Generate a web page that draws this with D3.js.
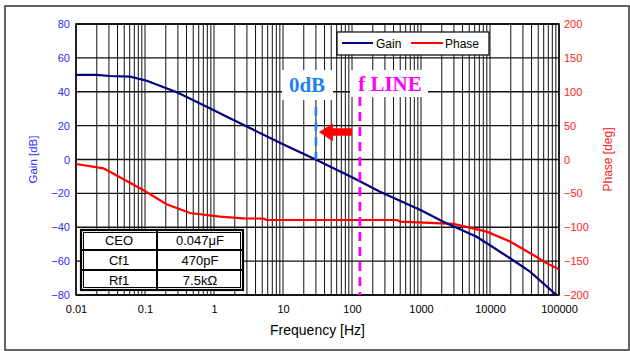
<!DOCTYPE html>
<html>
<head>
<meta charset="utf-8">
<script src="https://cdnjs.cloudflare.com/ajax/libs/d3/7.8.5/d3.min.js"></script>
<style>
  body { margin: 0; background: #fff; }
  svg { display: block; font-family: Arial, "Liberation Sans", sans-serif; }
</style>
</head>
<body>
<div id="chart"></div>
<script>
// gain curve [Hz, dB]
var gainFreq = [0.01, 0.02, 0.031, 0.061, 0.106, 0.29, 0.87, 1.7, 10, 30.7, 100, 255, 1000, 2100, 3000, 6400, 10000, 19500, 38000, 92000];
var gainDb   = [50, 50, 49.3, 48.9, 46.5, 39.7, 30.2, 24.3, 9, -0.3, -10.5, -19, -30, -36.7, -39.6, -45.6, -50.6, -58.3, -66.2, -80];

// phase curve [Hz, deg]
var phaseFreq = [0.01, 0.025, 0.031, 0.094, 0.206, 0.45, 1.22, 2.66, 5.2, 5.8, 450, 497, 2940, 8950, 19500, 42500, 66000, 100000];
var phaseDeg  = [-6.6, -13, -18, -45, -66, -79, -84.4, -86.8, -87.3, -89.3, -89.3, -91.8, -95, -106.5, -121, -141, -153, -162];

var xTicks = [0.01, 0.1, 1, 10, 100, 1000, 10000, 100000];
var xTickLabels = ["0.01", "0.1", "1", "10", "100", "1000", "10000", "100000"];
var gainTicks = [-80, -60, -40, -20, 0, 20, 40, 60, 80];
var phaseTicks = [-200, -150, -100, -50, 0, 50, 100, 150, 200];

var zeroDbFreq = 30;
var fLineFreq = 130;

var tableRows = [["CEO", "0.047\u03bcF"], ["Cf1", "470pF"], ["Rf1", "7.5k\u03a9"]];

var width = 630, height = 351;
var margin = {left: 76, top: 24, right: 71, bottom: 56};
var plotW = width - margin.left - margin.right;
var plotH = height - margin.top - margin.bottom;

var svg = d3.select("#chart").append("svg")
  .attr("width", width)
  .attr("height", height);

// outer frame
svg.append("rect")
  .attr("x", 5).attr("y", 6)
  .attr("width", 624).attr("height", 344)
  .attr("fill", "none")
  .attr("stroke", "#333")
  .attr("stroke-width", 1.5);

var g = svg.append("g")
  .attr("transform", "translate(" + margin.left + "," + margin.top + ")");

var x = d3.scaleLog().domain([0.01, 100000]).range([0, plotW]);
var yGain = d3.scaleLinear().domain([-80, 80]).range([plotH, 0]);
var yPhase = d3.scaleLinear().domain([-200, 200]).range([plotH, 0]);

g.append("clipPath").attr("id", "clip")
  .append("rect").attr("width", plotW).attr("height", plotH);

// grid lines: every 1..9 per decade
var gridFreqs = [];
for (var e = -2; e < 5; e++) {
  for (var m = 1; m < 10; m++) gridFreqs.push(m * Math.pow(10, e));
}
gridFreqs.push(100000);

g.append("g").selectAll("line")
  .data(gridFreqs)
  .enter()
  .append("line")
  .attr("x1", d => x(d)).attr("x2", d => x(d))
  .attr("y1", 0).attr("y2", plotH)
  .attr("stroke", "#111")
  .attr("stroke-width", 1);

g.append("g").selectAll("line")
  .data(gainTicks)
  .enter()
  .append("line")
  .attr("x1", 0).attr("x2", plotW)
  .attr("y1", d => yGain(d)).attr("y2", d => yGain(d))
  .attr("stroke", "#111")
  .attr("stroke-width", 1.3);

// white label boxes that cut the grid
g.append("rect")
  .attr("x", 282 - margin.left).attr("y", 70 - margin.top)
  .attr("width", 51).attr("height", 30)
  .attr("fill", "#fff");
g.append("rect")
  .attr("x", 350 - margin.left).attr("y", 70 - margin.top)
  .attr("width", 78).attr("height", 27)
  .attr("fill", "#fff");

// plot border
g.append("rect")
  .attr("width", plotW).attr("height", plotH)
  .attr("fill", "none")
  .attr("stroke", "#000")
  .attr("stroke-width", 1.5);

// curves
var gainData = gainFreq.map((f, i) => ({f: f, v: gainDb[i]}));
var phaseData = phaseFreq.map((f, i) => ({f: f, v: phaseDeg[i]}));

var curves = g.append("g").attr("clip-path", "url(#clip)");

curves.append("path")
  .datum(phaseData)
  .attr("fill", "none")
  .attr("stroke", "#ff0000")
  .attr("stroke-width", 2.2)
  .attr("d", d3.line().x(d => x(d.f)).y(d => yPhase(d.v)));

curves.append("path")
  .datum(gainData)
  .attr("fill", "none")
  .attr("stroke", "#000080")
  .attr("stroke-width", 2.2)
  .attr("d", d3.line().x(d => x(d.f)).y(d => yGain(d.v)));

// 0dB and f LINE markers
g.append("line")
  .attr("x1", x(zeroDbFreq)).attr("x2", x(zeroDbFreq))
  .attr("y1", 107 - margin.top).attr("y2", yGain(0))
  .attr("stroke", "#1e7fff")
  .attr("stroke-width", 2.6)
  .attr("stroke-dasharray", "9,6");

g.append("line")
  .attr("x1", x(fLineFreq)).attr("x2", x(fLineFreq))
  .attr("y1", 97 - margin.top).attr("y2", plotH)
  .attr("stroke", "#ff00ff")
  .attr("stroke-width", 2.8)
  .attr("stroke-dasharray", "9,6");

g.append("text")
  .attr("x", 307 - margin.left).attr("y", 92 - margin.top)
  .attr("text-anchor", "middle")
  .attr("font-family", "'Liberation Serif', 'Times New Roman', serif")
  .attr("font-weight", "bold")
  .attr("font-size", 21)
  .attr("fill", "#1e7fff")
  .text("0dB");

g.append("text")
  .attr("x", 390 - margin.left).attr("y", 91 - margin.top)
  .attr("text-anchor", "middle")
  .attr("font-family", "'Liberation Serif', 'Times New Roman', serif")
  .attr("font-weight", "bold")
  .attr("font-size", 21)
  .attr("fill", "#ff00ff")
  .text("f LINE");

// red arrow pointing to the 0dB line
var tipX = x(zeroDbFreq) + 3, ay = 132 - margin.top;
g.append("path")
  .attr("d", "M" + tipX + "," + ay +
    " L" + (tipX + 14) + "," + (ay - 8.5) +
    " L" + (tipX + 14) + "," + (ay - 3.7) +
    " L" + (tipX + 33) + "," + (ay - 3.7) +
    " L" + (tipX + 33) + "," + (ay + 3.7) +
    " L" + (tipX + 14) + "," + (ay + 3.7) +
    " L" + (tipX + 14) + "," + (ay + 9.5) + " Z")
  .attr("fill", "#ff0000");

// legend
var leg = svg.append("g").attr("transform", "translate(337,32)");
leg.append("rect")
  .attr("width", 152).attr("height", 23)
  .attr("fill", "#fff")
  .attr("stroke", "#000")
  .attr("stroke-width", 1.2);
leg.append("line").attr("x1", 5).attr("x2", 36).attr("y1", 11).attr("y2", 11)
  .attr("stroke", "#000080").attr("stroke-width", 2);
leg.append("text").attr("x", 39).attr("y", 15.5).attr("font-size", 12).text("Gain");
leg.append("line").attr("x1", 74).attr("x2", 106).attr("y1", 11).attr("y2", 11)
  .attr("stroke", "#ff0000").attr("stroke-width", 2);
leg.append("text").attr("x", 108).attr("y", 15.5).attr("font-size", 12).text("Phase");

// parameter table
var tx = 81, ty = 230, colW = [76, 86], rowH = 20;
var tbl = svg.append("g").attr("transform", "translate(" + tx + "," + ty + ")");
tbl.append("rect")
  .attr("width", colW[0] + colW[1]).attr("height", rowH * 3)
  .attr("fill", "#fff")
  .attr("stroke", "#000")
  .attr("stroke-width", 2.2);
tbl.append("rect")
  .attr("x", 2.5).attr("y", 2.5)
  .attr("width", colW[0] + colW[1] - 5).attr("height", rowH * 3 - 5)
  .attr("fill", "none")
  .attr("stroke", "#000")
  .attr("stroke-width", 1);
tbl.append("line").attr("x1", colW[0]).attr("x2", colW[0]).attr("y1", 0).attr("y2", rowH * 3)
  .attr("stroke", "#000").attr("stroke-width", 2);
[1, 2].forEach(r => {
  tbl.append("line").attr("x1", 0).attr("x2", colW[0] + colW[1])
    .attr("y1", r * rowH).attr("y2", r * rowH)
    .attr("stroke", "#000").attr("stroke-width", 2);
});
tableRows.forEach((row, i) => {
  tbl.append("text")
    .attr("x", colW[0] / 2).attr("y", i * rowH + 15)
    .attr("text-anchor", "middle").attr("font-size", 13)
    .text(row[0]);
  tbl.append("text")
    .attr("x", colW[0] + colW[1] / 2).attr("y", i * rowH + 15)
    .attr("text-anchor", "middle").attr("font-size", 13)
    .text(row[1]);
});

// axes
var xAxis = g.append("g")
  .attr("transform", "translate(0," + plotH + ")")
  .call(d3.axisBottom(x).tickValues(xTicks).tickSize(0).tickPadding(10)
    .tickFormat((d, i) => xTickLabels[i]));
xAxis.select(".domain").remove();
xAxis.selectAll("text").attr("font-size", 11).attr("fill", "#000");

var leftAxis = g.append("g")
  .call(d3.axisLeft(yGain).tickValues(gainTicks).tickSize(0).tickPadding(6));
leftAxis.select(".domain").remove();
leftAxis.selectAll("text").attr("font-size", 11).attr("fill", "#2b2bff");

var rightAxis = g.append("g")
  .attr("transform", "translate(" + plotW + ",0)")
  .call(d3.axisRight(yPhase).tickValues(phaseTicks).tickSize(0).tickPadding(5));
rightAxis.select(".domain").remove();
rightAxis.selectAll("text").attr("font-size", 11).attr("fill", "#ff2020");

// axis titles
svg.append("text")
  .attr("x", margin.left + plotW / 2).attr("y", 335)
  .attr("text-anchor", "middle")
  .attr("font-size", 14)
  .text("Frequency [Hz]");

svg.append("text")
  .attr("transform", "translate(37," + (margin.top + plotH / 2) + ") rotate(-90)")
  .attr("text-anchor", "middle")
  .attr("font-size", 11.5)
  .attr("fill", "#2b2bff")
  .text("Gain [dB]");

svg.append("text")
  .attr("transform", "translate(612," + (margin.top + plotH / 2) + ") rotate(-90)")
  .attr("text-anchor", "middle")
  .attr("font-size", 12)
  .attr("fill", "#ff2020")
  .text("Phase [deg]");
</script>
</body>
</html>
